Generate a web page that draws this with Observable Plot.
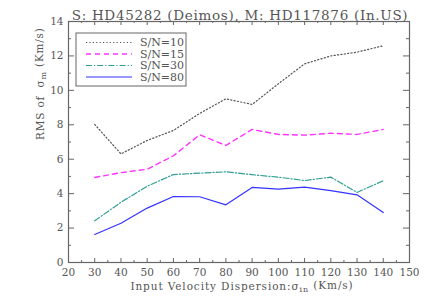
<!DOCTYPE html>
<html>
<head>
<meta charset="utf-8">
<script src="https://cdn.jsdelivr.net/npm/d3@7"></script>
<script src="https://cdn.jsdelivr.net/npm/@observablehq/plot@0.6"></script>
<style>
  html, body { margin: 0; padding: 0; background: #fff; }
  #chart { position: relative; width: 429px; height: 306px; }
  svg { font-family: "DejaVu Serif", serif; }
</style>
</head>
<body>
<div id="chart"></div>
<script>
// ---- data ----
const sigmaIn = [30, 40, 50, 60, 70, 80, 90, 100, 110, 120, 130, 140];
const sn10 = [8.02, 6.31, 7.09, 7.67, 8.66, 9.51, 9.18, 10.38, 11.54, 12.0, 12.22, 12.59];
const sn15 = [4.94, 5.22, 5.42, 6.2, 7.42, 6.8, 7.73, 7.44, 7.4, 7.51, 7.44, 7.73];
const sn30 = [2.42, 3.5, 4.43, 5.11, 5.19, 5.27, 5.1, 4.96, 4.76, 4.96, 4.07, 4.75];
const sn80 = [1.63, 2.28, 3.16, 3.83, 3.82, 3.35, 4.36, 4.26, 4.38, 4.18, 3.93, 2.9];
const seriesNames = ["S/N=10", "S/N=15", "S/N=30", "S/N=80"];
const xTicks = [20, 30, 40, 50, 60, 70, 80, 90, 100, 110, 120, 130, 140, 150];
const yTicks = [0, 2, 4, 6, 8, 10, 12, 14];
const xMinor = d3.range(25, 150, 10);
const yMinor = d3.range(1, 14, 2);
const titleText = "S: HD45282 (Deimos), M: HD117876 (In.US)";
const xLabelParts = ["Input Velocity Dispersion:σ", "in", " (Km/s)"];
const yLabelParts = ["RMS of  σ", "m", " (Km/s)"];

const styles = [
  {stroke: "#555555", dash: "1.2,2.2", width: 1.2},
  {stroke: "#ff33ff", dash: "5,4", width: 1.4},
  {stroke: "#2f9c96", dash: "6,2,1.2,2", width: 1.2},
  {stroke: "#3333ff", dash: null, width: 1.2}
];
const allSeries = [sn10, sn15, sn30, sn80];
const rows = [];
allSeries.forEach((vals, i) => vals.forEach((v, j) => rows.push({x: sigmaIn[j], y: v, s: seriesNames[i]})));

const W = 429, H = 306;
const mL = 68, mR = 20, mT = 21, mB = 44;
const fw = W - mL - mR, fh = H - mT - mB;
const axisColor = "#666666";
const textColor = "#555555";

const lineMarks = seriesNames.map((name, i) =>
  Plot.line(rows.filter(r => r.s === name), {
    x: "x", y: "y",
    stroke: styles[i].stroke,
    strokeWidth: styles[i].width,
    strokeDasharray: styles[i].dash
  })
);

const plot = Plot.plot({
  width: W, height: H,
  marginLeft: mL, marginRight: mR, marginTop: mT, marginBottom: mB,
  style: {fontFamily: "DejaVu Serif, serif", background: "white"},
  x: {domain: [20, 150]},
  y: {domain: [0, 14]},
  marks: [
    ...lineMarks,
    // major/minor inward ticks, all four sides
    Plot.tickX(xTicks, {x: d => d, stroke: axisColor, insetTop: fh - 4}),
    Plot.tickX(xTicks, {x: d => d, stroke: axisColor, insetBottom: fh - 4}),
    Plot.tickX(xMinor, {x: d => d, stroke: axisColor, insetTop: fh - 2}),
    Plot.tickX(xMinor, {x: d => d, stroke: axisColor, insetBottom: fh - 2}),
    Plot.tickY(yTicks, {y: d => d, stroke: axisColor, insetRight: fw - 6}),
    Plot.tickY(yTicks, {y: d => d, stroke: axisColor, insetLeft: fw - 6}),
    Plot.tickY(yMinor, {y: d => d, stroke: axisColor, insetRight: fw - 3}),
    Plot.tickY(yMinor, {y: d => d, stroke: axisColor, insetLeft: fw - 3}),
    Plot.frame({stroke: axisColor, strokeWidth: 1.2}),
    Plot.axisX(xTicks, {anchor: "bottom", tickSize: 0, tickPadding: 6, fontSize: 10.5, fill: textColor, label: null}),
    Plot.axisY(yTicks, {anchor: "left", tickSize: 0, tickPadding: 5, fontSize: 10.5, fill: textColor, label: null}),
    Plot.text([titleText], {frameAnchor: "top", dx: 1, dy: -11, fontSize: 13.5, fill: textColor, text: d => d, className: "ttl"}),
    Plot.text([xLabelParts.join("")], {frameAnchor: "bottom", dx: 3, dy: 27, fontSize: 10.5, fill: textColor, text: d => d, className: "xl"}),
    Plot.text([yLabelParts.join("")], {frameAnchor: "left", dx: -28, dy: -2, rotate: -90, fontSize: 10.5, fill: textColor, text: d => d, className: "yl"})
  ]
});

const svg = d3.select(plot);
svg.selectAll(".ttl text").style("letter-spacing", "0.7px");

// rebuild axis titles with true subscripts
function subscriptify(sel, parts, spacing) {
  sel.each(function () {
    const t = d3.select(this);
    t.text(null).style("letter-spacing", spacing);
    t.append("tspan").text(parts[0]);
    t.append("tspan").attr("dy", "0.3em").attr("font-size", 8).text(parts[1]);
    t.append("tspan").attr("dy", "-0.3em").text(parts[2]);
  });
}
subscriptify(svg.selectAll(".xl text"), xLabelParts, "0.9px");
subscriptify(svg.selectAll(".yl text"), yLabelParts, "0.8px");

// legend overlay inside the plot frame
const lg = svg.append("g").attr("transform", `translate(${mL + 8},${mT + 12})`);
lg.append("rect").attr("x", 0).attr("y", 0).attr("width", 110).attr("height", 53)
  .attr("fill", "white").attr("stroke", axisColor).attr("stroke-width", 1);
seriesNames.forEach((name, i) => {
  const yy = 9.5 + i * 11.5;
  lg.append("line").attr("x1", 10).attr("x2", 56).attr("y1", yy).attr("y2", yy)
    .attr("stroke", styles[i].stroke).attr("stroke-width", styles[i].width)
    .attr("stroke-dasharray", styles[i].dash);
  lg.append("text").attr("x", 64).attr("y", yy).attr("dy", "0.35em")
    .attr("text-anchor", "start")
    .attr("fill", textColor).attr("font-size", 11).text(name);
});

document.getElementById("chart").appendChild(plot);
</script>
</body>
</html>
